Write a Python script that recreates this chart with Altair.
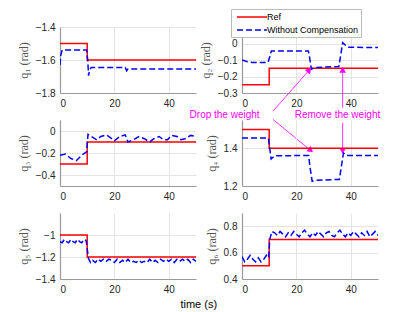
import altair as alt
import pandas as pd

# ---------------- data ----------------
series_names = ["Ref", "Without Compensation"]
t_ref = [0, 10, 10, 50]

ref1 = [-1.5, -1.5, -1.6, -1.6]
t1 = [0, 0.3, 0.8, 9.8, 10.2, 10.5, 10.9, 11.5, 24, 24.5, 25, 50]
v1 = [-1.63, -1.57, -1.54, -1.54, -1.6, -1.695, -1.66, -1.645, -1.645, -1.665, -1.655, -1.655]

ref2 = [-0.25, -0.25, -0.15, -0.15]
t2 = [0, 2, 4, 9.6, 10.2, 10.8, 24.4, 24.9, 25.5, 27, 35.6, 36.2, 37, 38, 39, 50]
v2 = [-0.10, -0.11, -0.115, -0.115, -0.08, -0.045, -0.045, -0.09, -0.155, -0.145, -0.14, -0.08, 0.005, -0.01, -0.022, -0.025]

ref3 = [-0.3, -0.3, -0.1, -0.1]
t3 = [0, 2, 4, 6, 8, 9.8, 10.3, 11.5, 13.5, 15, 17, 18.5, 20, 22, 24, 25, 27, 29, 31, 33,
      34.5, 36.5, 38, 39.5, 41, 43, 44.5, 46, 48, 50]
v3 = [-0.22, -0.21, -0.25, -0.27, -0.22, -0.19, -0.03, -0.05, -0.08, -0.05, -0.035, -0.06, -0.09, -0.05, -0.035, -0.1, -0.08, -0.05, -0.07, -0.1,
      -0.07, -0.05, -0.08, -0.08, -0.04, -0.05, -0.08, -0.07, -0.04, -0.05]

ref4 = [1.5, 1.5, 1.4, 1.4]
t4 = [0, 9.7, 10.2, 10.7, 12, 24.5, 25, 25.8, 27, 35.8, 36.5, 37.3, 38.5, 50]
v4 = [1.455, 1.455, 1.40, 1.343, 1.36, 1.362, 1.30, 1.225, 1.23, 1.235, 1.30, 1.375, 1.362, 1.362]

ref5 = [-1.0, -1.0, -1.2, -1.2]
t5 = [0, 0.8, 1.6, 2.4, 3.2, 4.0, 4.8, 5.6, 6.4, 7.2, 8.0, 8.8, 9.6, 10.0, 10.4, 11.2,
      12, 13, 14, 15, 16, 17, 18, 19, 20, 21, 22, 23, 24, 25, 26, 27, 28, 29, 30,
      31, 32, 33, 34, 35, 36, 37, 38, 39, 40, 41, 42, 43, 44, 45, 46, 47, 48, 49, 50]
v5 = [-1.06, -1.07, -1.04, -1.06, -1.07, -1.04, -1.06, -1.07, -1.04, -1.06, -1.07, -1.04, -1.05, -1.12, -1.21, -1.25,
      -1.23, -1.25, -1.22, -1.24, -1.22, -1.24, -1.22, -1.23, -1.25, -1.22, -1.25, -1.23, -1.25, -1.22, -1.25, -1.24, -1.25, -1.23, -1.25,
      -1.24, -1.25, -1.22, -1.25, -1.23, -1.25, -1.22, -1.24, -1.22, -1.24, -1.22, -1.25, -1.22, -1.24, -1.22, -1.24, -1.22, -1.25, -1.22, -1.24]

ref6 = [0.5, 0.5, 0.7, 0.7]
t6 = [0, 1, 2, 3, 4, 5, 6, 7, 8, 9, 9.8, 10.2, 11, 12, 13, 14, 15, 16, 17, 18, 19, 20,
      21, 22, 23, 24, 25, 26, 27, 28, 29, 30, 31, 32, 33, 34, 35, 36, 37, 38, 39, 40,
      41, 42, 43, 44, 45, 46, 47, 48, 49, 50]
v6 = [0.57, 0.53, 0.55, 0.58, 0.55, 0.53, 0.56, 0.53, 0.55, 0.58, 0.56, 0.70, 0.76, 0.75, 0.73, 0.76, 0.74, 0.72, 0.75, 0.73, 0.76, 0.74,
      0.72, 0.75, 0.77, 0.74, 0.72, 0.75, 0.73, 0.76, 0.74, 0.72, 0.75, 0.76, 0.73, 0.72, 0.75, 0.77, 0.74, 0.72, 0.75, 0.73,
      0.76, 0.74, 0.72, 0.75, 0.73, 0.76, 0.72, 0.74, 0.76, 0.73]

# annotation (in q2 panel data coordinates)
note_text = ["Drop the weight", "Remove the weight"]
note_t = [-6.4, 35.1]
note_v = [-0.432, -0.432]
arrow_t = [11.4, 11.4, 37, 37]
arrow_v = [-0.41, -0.46, -0.39, -0.48]
arrow_t2 = [24.5, 25, 37, 37]
arrow_v2 = [-0.165, -0.645, -0.165, -0.645]
arrow_angle = [41, 129, 0, 180]

MAGENTA = "#ff00ff"
W, H = 136, 66

LEG = alt.Legend(orient="none", legendX=W + 46 - 11, legendY=-18, title=None,
                 direction="vertical", symbolType="M-3,0H3", symbolSize=100,
                 symbolStrokeWidth=1.5, symbolOffset=13, labelOffset=9,
                 fillColor="white", strokeColor="#bbbbbb", padding=2,
                 rowPadding=2, labelFontSize=9, labelFont="Liberation Sans",
                 labelColor="#000000")


def panel(tb, vb, vref, domain, ticks, title, annotate=False):
    df = pd.concat([
        pd.DataFrame({"t": t_ref, "v": vref, "s": series_names[0]}),
        pd.DataFrame({"t": tb, "v": vb, "s": series_names[1]}),
    ])
    X = alt.X("t:Q", scale=alt.Scale(domain=[0, 50], nice=False),
              axis=alt.Axis(values=[0, 20, 40], title=None, format="d"))
    Y = alt.Y("v:Q", scale=alt.Scale(domain=domain, nice=False, zero=False),
              axis=alt.Axis(values=ticks, title=title, format="~r", labelOverlap=False,
                            tickCount=len(ticks)))
    lines = alt.Chart(df).mark_line(strokeWidth=1.5, clip=True).encode(
        x=X, y=Y,
        color=alt.Color("s:N", scale=alt.Scale(domain=series_names, range=["#ff0000", "#0000ff"]),
                        legend=LEG),
        strokeDash=alt.StrokeDash("s:N", scale=alt.Scale(domain=series_names, range=[[1, 0], [6, 3]]),
                                  legend=LEG),
    )
    layers = [lines]
    if annotate:
        notes_df = pd.DataFrame({"t": note_t, "v": note_v, "label": note_text})
        arrows_df = pd.DataFrame({"t": arrow_t, "v": arrow_v, "t2": arrow_t2,
                                  "v2": arrow_v2, "a": arrow_angle})
        layers += [
            alt.Chart(arrows_df).mark_rule(color=MAGENTA, strokeWidth=0.8, clip=False).encode(
                x=X, y=Y, x2="t2:Q", y2="v2:Q"),
            alt.Chart(arrows_df).mark_point(shape="triangle", filled=True, color=MAGENTA, size=45,
                                            opacity=1, clip=False).encode(
                x=alt.X("t2:Q", scale=alt.Scale(domain=[0, 50], nice=False),
                        axis=alt.Axis(values=[0, 20, 40], title=None, format="d")),
                y=alt.Y("v2:Q", scale=alt.Scale(domain=domain, nice=False, zero=False),
                        axis=alt.Axis(values=ticks, title=title, format="~r", labelOverlap=False,
                                      tickCount=len(ticks))),
                angle=alt.Angle("a:Q", scale=None)),
            alt.Chart(notes_df).mark_text(color=MAGENTA, fontSize=10, font="Liberation Sans",
                                          align="center", baseline="middle", clip=False).encode(
                x=X, y=Y, text="label:N"),
        ]
    return alt.layer(*layers).properties(width=W, height=H)


p1 = panel(t1, v1, ref1, [-1.8, -1.4], [-1.8, -1.6, -1.4], "q₁ (rad)")
p2 = panel(t2, v2, ref2, [-0.3, 0.1], [-0.3, -0.2, -0.1, 0], "q₂ (rad)", annotate=True)
p3 = panel(t3, v3, ref3, [-0.5, 0.1], [-0.4, -0.2, 0], "q₃ (rad)")
p4 = panel(t4, v4, ref4, [1.2, 1.55], [1.2, 1.4], "q₄ (rad)")
p5 = panel(t5, v5, ref5, [-1.4, -0.8], [-1.4, -1.2, -1.0], "q₅ (rad)")
p6 = panel(t6, v6, ref6, [0.4, 0.9], [0.4, 0.6, 0.8], "q₆ (rad)")

chart = alt.concat(
    p1, p2, p3, p4, p5, p6, columns=2,
    spacing=alt.RowColnumber(row=27, column=46), bounds="flush",
    title=alt.Title("time (s)", orient="bottom", anchor="middle", fontSize=11,
                    fontWeight="normal", font="Liberation Sans", color="#000000", offset=5),
).properties(
    padding={"left": 9, "top": 0, "right": 5, "bottom": 5},
    background="white",
).configure_view(
    stroke=None
).configure_axis(
    labelFont="Liberation Sans", labelFontSize=10, labelColor="#262626",
    domainColor="#9a9a9a", domainWidth=1.2, gridColor="#e4e4e4", gridWidth=1,
    tickSize=0, labelPadding=5, labelOverlap=False,
    titleFont="Liberation Serif", titleFontSize=12, titleFontWeight="normal",
    titleColor="#555555", titlePadding=5,
)

chart.save("out.html", embed_options={"renderer": "svg", "actions": False})
